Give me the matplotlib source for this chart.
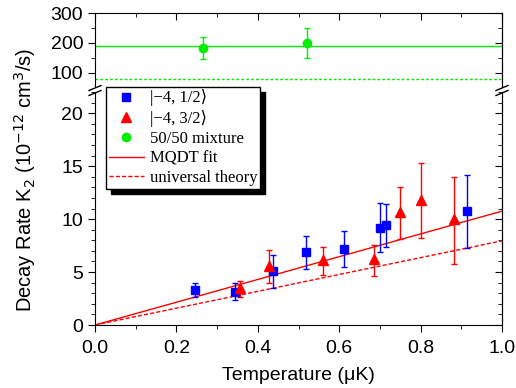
import numpy as np
import matplotlib
matplotlib.use("Agg")
import matplotlib.pyplot as plt
from matplotlib.ticker import MultipleLocator
from matplotlib.lines import Line2D
from matplotlib.patches import Rectangle

plt.rcParams['font.family'] = ['Liberation Sans', 'DejaVu Sans']

# ── data ────────────────────────────────────────────────────────────────────
t_half = [0.246, 0.345, 0.437, 0.518, 0.613, 0.700, 0.714, 0.915]
k_half = [3.3, 3.15, 5.1, 6.85, 7.2, 9.2, 9.4, 10.8]
k_half_hi = [3.95, 4.0, 6.6, 8.4, 8.9, 11.5, 11.4, 14.2]
k_half_lo = [2.65, 2.4, 3.5, 5.3, 5.5, 6.9, 7.4, 7.3]

t_3half = [0.356, 0.428, 0.559, 0.686, 0.749, 0.800, 0.881]
k_3half = [3.5, 5.6, 6.1, 6.2, 10.7, 11.8, 10.0]
k_3half_hi = [4.15, 7.1, 7.4, 7.6, 13.0, 15.25, 14.0]
k_3half_lo = [2.6, 3.95, 4.7, 4.65, 8.1, 8.2, 5.8]

t_mix = [0.265, 0.520]
k_mix = [182, 200]
k_mix_hi = [218, 248]
k_mix_lo = [144, 150]
k_mix_fit = 188      # solid green line
k_mix_univ = 78      # dotted green line

t_line = [0.0, 1.0]
k_mqdt = [0.0, 10.75]
k_univ = [0.0, 7.95]

blue, red, green = '#0000ff', '#ff0000', '#00ee00'

W, H = 516, 388
fig = plt.figure(figsize=(W / 100, H / 100), dpi=100)
x0, x1 = 95, 502
ax_top = fig.add_axes([x0 / W, 1 - 86 / H, (x1 - x0) / W, (86 - 13) / H])
ax = fig.add_axes([x0 / W, 1 - 325 / H, (x1 - x0) / W, (325 - 92) / H])


def yerr(v, hi, lo):
    v, hi, lo = map(np.asarray, (v, hi, lo))
    return [v - lo, hi - v]


# ── lower panel ─────────────────────────────────────────────────────────────
ax.errorbar(t_half, k_half, yerr=yerr(k_half, k_half_hi, k_half_lo), fmt='s',
            color=blue, ms=5.5, elinewidth=1, capsize=2.5, capthick=1, zorder=4)
ax.errorbar(t_3half, k_3half, yerr=yerr(k_3half, k_3half_hi, k_3half_lo), fmt='^',
            color=red, ms=7, elinewidth=1, capsize=2.5, capthick=1, zorder=4)
ax.plot(t_line, k_mqdt, '-', color=red, lw=1)
ax.plot(t_line, k_univ, '--', color=red, lw=1, dashes=(3, 1.5))
ax.set_xlim(0, 1)
ax.set_ylim(0, 22)
ax.xaxis.set_major_locator(MultipleLocator(0.2))
ax.xaxis.set_minor_locator(MultipleLocator(0.1))
ax.yaxis.set_major_locator(MultipleLocator(5))
ax.yaxis.set_minor_locator(MultipleLocator(1))
ax.xaxis.set_major_formatter(plt.FormatStrFormatter('%.1f'))
ax.spines['top'].set_visible(False)
ax.tick_params(which='both', direction='out', labelsize=14, top=False, right=False)
ax.tick_params(which='major', length=5)
ax.tick_params(which='minor', length=3)
ax.tick_params(axis='x', pad=6)
ax.set_xlabel('Temperature (\u03bcK)', fontsize=14, labelpad=7)
sy = ax.secondary_yaxis('right')
sy.yaxis.set_major_locator(MultipleLocator(5))
sy.yaxis.set_minor_locator(MultipleLocator(1))
sy.tick_params(which='both', direction='in', labelright=False)
sy.tick_params(which='major', length=5)
sy.tick_params(which='minor', length=3)

# ── upper panel ─────────────────────────────────────────────────────────────
ax_top.errorbar(t_mix, k_mix, yerr=yerr(k_mix, k_mix_hi, k_mix_lo), fmt='o',
                color=green, ms=6, elinewidth=1, capsize=2.5, capthick=1, zorder=4)
ax_top.axhline(k_mix_fit, color=green, lw=1)
ax_top.axhline(k_mix_univ, color=green, lw=1, ls=(0, (2, 1.5)))
ax_top.set_xlim(0, 1)
ax_top.set_ylim(55, 300)
ax_top.yaxis.set_major_locator(MultipleLocator(100))
ax_top.yaxis.set_minor_locator(MultipleLocator(50))
ax_top.xaxis.set_major_locator(MultipleLocator(0.2))
ax_top.xaxis.set_minor_locator(MultipleLocator(0.1))
ax_top.spines['bottom'].set_visible(False)
ax_top.tick_params(axis='x', which='both', bottom=False, labelbottom=False,
                   top=True, direction='in')
ax_top.tick_params(axis='y', which='both', direction='out', labelsize=14, right=False)
ax_top.tick_params(which='major', length=5)
ax_top.tick_params(which='minor', length=3)
sy2 = ax_top.secondary_yaxis('right')
sy2.yaxis.set_major_locator(MultipleLocator(100))
sy2.yaxis.set_minor_locator(MultipleLocator(50))
sy2.tick_params(which='both', direction='in', labelright=False)
sy2.tick_params(which='major', length=5)
sy2.tick_params(which='minor', length=3)

fig.text(12 / W, 1 - 180 / H, 'Decay Rate K$_2$ (10$^{-12}$ cm$^3$/s)', rotation=90,
         fontsize=14.5, ha='left', va='center')

# ── axis break marks ────────────────────────────────────────────────────────
for xs in (x0, x1):
    for yc in (88, 93):
        fig.add_artist(Line2D([(xs - 6) / W, (xs + 6) / W],
                              [1 - (yc + 2.5) / H, 1 - (yc - 2.5) / H],
                              color='k', lw=1))

# ── legend ──────────────────────────────────────────────────────────────────
handles = [
    Line2D([], [], ls='none', marker='s', color=blue, ms=5.5),
    Line2D([], [], ls='none', marker='^', color=red, ms=7),
    Line2D([], [], ls='none', marker='o', color=green, ms=6),
    Line2D([], [], ls='-', color=red, lw=1),
    Line2D([], [], ls='--', color=red, lw=1, dashes=(3, 1.5)),
]
labels = ['|\u22124, 1/2\u27e9', '|\u22124, 3/2\u27e9', '50/50 mixture',
          'MQDT fit', 'universal theory']
leg = fig.legend(handles, labels, loc='upper left',
                 bbox_to_anchor=(106 / W, 1 - 87 / H), bbox_transform=fig.transFigure,
                 borderaxespad=0, fancybox=False, edgecolor='k', framealpha=1,
                 prop={'family': ['Liberation Serif', 'DejaVu Serif', 'DejaVu Sans'],
                       'size': 12},
                 handlelength=2.15, handletextpad=0.36, labelspacing=0.22,
                 borderpad=0.15)
leg.get_frame().set_linewidth(1)
leg.set_zorder(6)

fig.canvas.draw()
bb = leg.get_window_extent()
fig.add_artist(Rectangle((bb.x0 + 5, bb.y0 - 5), bb.width, bb.height,
                         transform=None, color='k', zorder=5))

fig.savefig('out.png', dpi=100)
